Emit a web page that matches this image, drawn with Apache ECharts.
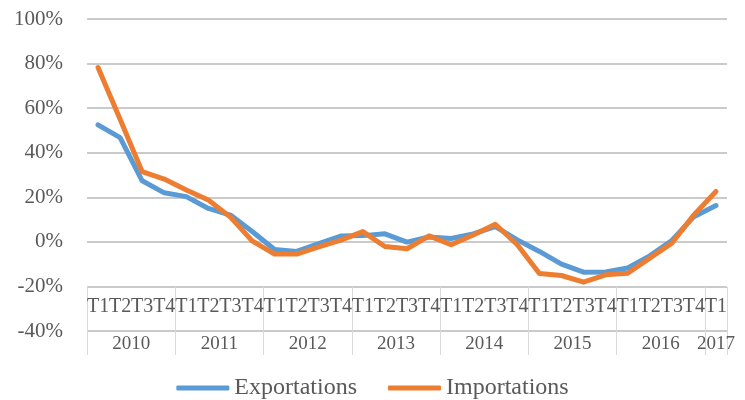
<!DOCTYPE html>
<html>
<head>
<meta charset="utf-8">
<script src="https://cdn.jsdelivr.net/npm/echarts@6/dist/echarts.min.js"></script>
<style>
  html, body { margin: 0; padding: 0; background: #fff; }
  #chart { width: 745px; height: 400px; }
</style>
</head>
<body>
<div id="chart"></div>
<script>
// quarters per year, 2010 - 2016 full years, 2017 only T1
const years = ['2010', '2011', '2012', '2013', '2014', '2015', '2016', '2017'];
const quartersPerYear = [4, 4, 4, 4, 4, 4, 4, 1];
const quarterNames = ['T1', 'T2', 'T3', 'T4'];

// growth rates in %
const exportations = [52.5, 46.8, 27.4, 22.0, 20.3, 15.0, 12.0, 4.5,
  -3.4, -4.3, -0.8, 2.6, 2.8, 3.6, -0.1, 2.2,
  1.5, 3.6, 6.8, 0.9, -4.3, -10.0, -13.6, -13.5,
  -11.7, -6.3, 0.6, 11.3, 16.3];
const importations = [78.2, 55.0, 31.5, 28.2, 23.3, 18.8, 11.1, 0.3,
  -5.5, -5.5, -2.3, 0.8, 4.6, -2.1, -3.1, 2.7,
  -1.3, 3.1, 7.9, -1.3, -14.2, -15.1, -18.1, -14.8,
  -14.1, -7.3, -0.6, 12.1, 22.6];

// quarter labels, one per data point
const quarters = [];
years.forEach(function (y, k) {
  for (let q = 0; q < quartersPerYear[k]; q++) quarters.push(quarterNames[q]);
});

// year axis on half-quarter steps: boundaries at even steps, labels in the middle
const halfSteps = [];
const yearTicks = {};
const yearLabels = {};
let pos = 0;
years.forEach(function (y, k) {
  yearTicks[pos * 2] = true;
  yearLabels[pos * 2 + quartersPerYear[k]] = y;
  pos += quartersPerYear[k];
});
yearTicks[pos * 2] = true;
for (let j = 0; j <= pos * 2; j++) halfSteps.push(yearLabels[j] || '');

const font = 'Liberation Serif';
const textColor = '#595959';

let chart = echarts.init(document.getElementById('chart'));
let option = {
  animation: false,
  grid: { left: 87, right: 18, top: 19, bottom: 69 },
  legend: {
    top: 371,
    left: 'center',
    icon: 'roundRect',
    itemWidth: 53,
    itemHeight: 5,
    itemGap: 31,
    textStyle: { fontFamily: font, fontSize: 24, color: textColor },
    data: ['Exportations', 'Importations']
  },
  xAxis: [
    {
      type: 'category',
      data: quarters,
      boundaryGap: true,
      position: 'bottom',
      offset: -44,
      axisLine: { show: false },
      axisTick: { show: false },
      axisLabel: {
        interval: 0,
        margin: 10,
        fontFamily: font,
        fontSize: 20,
        color: textColor
      }
    },
    {
      type: 'category',
      data: halfSteps,
      boundaryGap: false,
      position: 'bottom',
      offset: -44,
      axisLine: { show: false },
      axisTick: {
        show: true,
        length: 68,
        interval: function (i) { return !!yearTicks[i]; },
        lineStyle: { color: '#d9d9d9', width: 1 }
      },
      axisLabel: {
        interval: function (i) { return halfSteps[i] !== ''; },
        margin: 48,
        fontFamily: font,
        fontSize: 19,
        color: textColor
      }
    }
  ],
  yAxis: {
    type: 'value',
    min: -40,
    max: 100,
    interval: 20,
    axisLine: { show: false },
    axisTick: { show: false },
    axisLabel: {
      margin: 24,
      formatter: '{value}%',
      fontFamily: font,
      fontSize: 21,
      color: textColor
    },
    splitLine: { lineStyle: { color: '#b8b8b8', width: 1.5 } }
  },
  series: [
    {
      name: 'Exportations',
      type: 'line',
      xAxisIndex: 0,
      data: exportations,
      symbol: 'none',
      color: '#5b9bd5',
      lineStyle: { width: 5, cap: 'round', join: 'round' }
    },
    {
      name: 'Importations',
      type: 'line',
      xAxisIndex: 0,
      data: importations,
      symbol: 'none',
      color: '#ed7d31',
      lineStyle: { width: 5, cap: 'round', join: 'round' }
    }
  ]
};
chart.setOption(option);
</script>
</body>
</html>
